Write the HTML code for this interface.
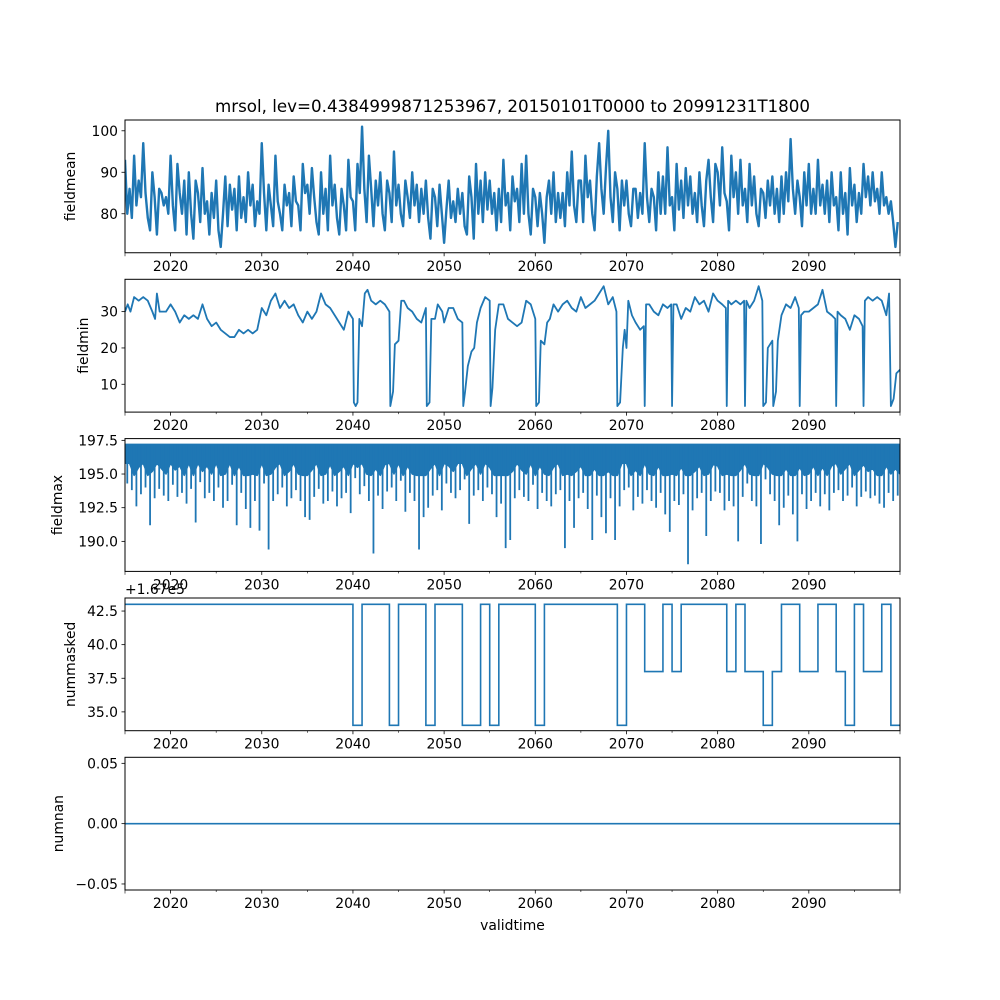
<!DOCTYPE html>
<html><head><meta charset="utf-8">
<style>
html,body{margin:0;padding:0;background:#fff;}
svg{display:block;font-family:"DejaVu Sans","Liberation Sans",sans-serif;}
</style></head>
<body>
<svg id="fig" width="1000" height="1000" viewBox="0 0 1000 1000">
<rect x="0" y="0" width="1000" height="1000" fill="#fff"/>
<text x="512.5" y="112" font-size="16.7" text-anchor="middle">mrsol, lev=0.4384999871253967, 20150101T0000 to 20991231T1800</text>
<text x="512.5" y="930" font-size="13.9" text-anchor="middle">validtime</text>
</svg>
<script>
// ---- data ----
const xDomain = [2015.0, 2100.0];
const majorYears = [2020, 2030, 2040, 2050, 2060, 2070, 2080, 2090];
const minorYears = [2015, 2025, 2035, 2045, 2055, 2065, 2075, 2085, 2095, 2100];

// fieldmean: quarter-year samples starting 2015.0
const meanStart = 2015.0;
const meanStep = 0.25;
const meanValues = [
93,80,86,79, 94,82,88,84, 97,85,79,76, 90,84,75,86, 85,82,84,80,
94,82,76,92, 85,80,88,75, 90,80,74,88, 85,78,91,80, 83,75,85,79,
88,76,72,80, 89,77,87,81, 86,76,89,79, 84,78,90,82, 87,77,83,80,
97,85,76,87, 82,77,94,83, 80,76,87,82, 85,77,89,83, 82,76,92,85,
87,80,91,84, 78,75,90,80, 86,76,94,82, 87,79,75,86, 82,76,93,84,
83,76,92,85, 101,86,78,94, 86,77,88,82, 90,80,76,88, 85,78,95,82,
87,80,77,88, 84,79,90,82, 87,78,86,80, 88,79,74,86, 84,77,87,80,
73,81,88,79, 83,78,86,80, 85,77,75,89, 84,74,92,80, 88,78,90,81,
88,80,85,76, 86,78,93,82, 85,76,89,83, 86,78,92,80, 94,80,75,86,
84,77,85,80, 73,84,88,80, 90,78,85,79, 85,77,90,82, 95,82,78,88,
88,78,94,84, 88,80,76,89, 97,86,80,91, 100,84,78,90, 86,76,88,82,
88,80,77,86, 86,79,85,80, 97,84,78,86, 84,76,90,80, 89,80,96,82,
84,76,92,81, 88,79,91,82, 89,80,85,78, 90,82,77,88, 93,84,78,92,
90,82,96,85, 83,76,94,84, 90,80,93,82, 86,78,92,82, 89,80,77,86,
85,79,88,82, 89,80,86,78, 89,80,90,83, 98,86,80,88, 84,77,90,82,
92,80,86,80, 93,82,87,80, 88,78,90,82, 84,76,90,80, 85,75,91,82,
87,78,85,80, 92,84,89,82, 90,83,86,80, 90,82,84,80, 83,78,72,78
];

// fieldmin: (year, value) pairs
const minYears = [2015,2015.3,2015.6,2016,2016.5,2017,2017.5,2018,2018.3,2018.5,2018.8,2019.5,2020,2020.5,2021,2021.5,2022,2022.5,2023,2023.5,2024,2024.5,2025,2025.5,2026,2026.5,2027,2027.5,2028,2028.5,2029,2029.5,2030,2030.5,2031,2031.5,2032,2032.5,2033,2033.5,2034,2034.5,2035,2035.5,2036,2036.5,2037,2037.5,2038,2038.5,2039,2039.5,2040,2040.1,2040.3,2040.5,2040.7,2041,2041.3,2041.6,2042,2042.5,2043,2043.5,2044,2044.1,2044.4,2044.6,2045,2045.3,2045.6,2046,2046.5,2047,2047.5,2048,2048.1,2048.4,2048.6,2049,2049.3,2049.8,2050,2050.5,2051,2051.5,2052,2052.1,2052.3,2052.6,2053,2053.3,2053.6,2054,2054.5,2055,2055.1,2055.3,2055.6,2056,2056.5,2057,2057.5,2058,2058.5,2059,2059.5,2060,2060.1,2060.4,2060.6,2061,2061.3,2061.6,2062,2062.5,2063,2063.5,2064,2064.5,2065,2065.5,2066,2066.5,2067,2067.5,2068,2068.5,2068.9,2069,2069.3,2069.6,2069.8,2070,2070.2,2070.6,2071,2071.5,2071.9,2072,2072.15,2072.5,2073,2073.5,2074,2074.5,2074.9,2075,2075.15,2075.5,2076,2076.5,2077,2077.5,2078,2078.5,2079,2079.5,2080,2080.5,2080.9,2081,2081.15,2081.5,2082,2082.5,2082.9,2083,2083.15,2083.5,2084,2084.5,2084.9,2085,2085.3,2085.5,2086,2086.1,2086.4,2086.6,2087,2087.5,2088,2088.5,2088.9,2089,2089.15,2089.5,2090,2090.5,2091,2091.5,2092,2092.5,2092.9,2093,2093.15,2093.5,2094,2094.5,2095,2095.5,2095.9,2096,2096.15,2096.5,2097,2097.5,2098,2098.5,2098.8,2099,2099.3,2099.6,2099.99];
const minValues = [30,32,30,34,33,34,33,30,28,35,30,30,32,30,27,29,28,29,28,32,28,26,27,25,24,23,23,25,24,25,24,25,31,29,33,35,31,33,31,32,29,27,30,28,30,35,32,31,29,27,25,30,28,5,4,5,28,26,35,36,33,32,33,32,30,4,8,21,22,33,33,31,30,28,27,31,4,5,28,28,32,30,27,31,31,28,27,4,8,15,19,20,27,31,34,33,4,9,25,32,32,28,27,26,27,33,32,28,4,5,22,21,27,28,32,30,32,33,31,30,34,31,32,33,35,37,32,34,30,4,5,20,25,20,33,29,27,25,26,4,32,32,30,29,32,31,32,4,32,32,28,31,30,34,32,33,30,35,33,32,31,4,33,32,33,32,33,4,33,31,33,37,33,4,5,20,22,4,8,22,29,32,31,34,31,4,29,30,30,31,32,36,30,29,28,4,30,29,28,25,29,28,26,4,33,34,33,34,33,29,35,4,6,13,14];

// fieldmax: upper level and half-year minima starting 2015.0
const maxTop = 197.2;
const maxStart = 2015.0;
const maxStep = 0.5;
const maxLows = [
194.3,193.8, 192.6,193.5, 194.0,191.2, 193.2,193.9, 193.4,193.0,
194.2,193.3, 193.6,192.8, 193.9,191.4, 194.4,193.2, 193.6,193.0,
194.0,192.5, 193.0,194.2, 191.2,193.6, 192.4,191.0, 193.0,190.8,
194.3,189.4, 193.0,193.5, 194.0,192.6, 193.2,193.8, 193.0,191.8,
191.6,193.3, 193.9,192.8, 193.0,193.7, 192.6,193.2, 193.6,192.1,
194.7,193.5, 194.1,193.0, 189.1,193.4, 192.4,193.7, 194.0,193.0,
194.5,192.2, 193.6,193.0, 189.4,191.8, 192.5,193.4, 193.8,192.3,
194.3,193.6, 193.2,193.8, 194.6,191.3, 193.4,193.8, 193.0,194.0,
193.5,191.8, 192.8,189.5, 190.1,193.2, 193.8,193.3, 193.0,194.2,
192.4,193.6, 193.0,192.6, 193.5,193.8, 189.5,193.0, 191.0,193.2,
193.6,192.4, 190.1,193.4, 191.8,190.6, 193.2,190.1, 192.6,193.8,
194.0,192.3, 193.3,192.8, 193.8,193.0, 192.5,193.6, 192.0,190.7,
193.0,192.7, 193.5,188.3, 192.3,193.2, 193.6,190.4, 193.0,193.7,
193.6,192.3, 193.0,192.6, 190.0,193.3, 194.3,193.0, 192.6,189.8,
194.6,193.5, 193.0,191.2, 192.5,193.4, 192.0,190.0, 193.5,192.4,
193.0,193.6, 192.6,193.5, 192.3,193.6, 193.8,193.0, 193.4,194.0,
192.6,193.3, 193.7,193.2, 193.4,192.8, 192.5,193.6, 193.0,193.4
];

// nummasked step function (offset +1.67e5)
const maskEdges = [2015,2040,2041,2044,2045,2048,2049,2052,2054,2055,2056,2060,2061,2069,2070,2072,2074,2075,2076,2081,2082,2083,2085,2086,2087,2089,2091,2093,2094,2095,2096,2098,2099,2100];
const maskValues = [43,34,43,34,43,34,43,34,43,34,43,34,43,34,43,38,43,38,43,38,43,38,34,38,43,38,43,38,34,43,38,43,34];

// numnan
const nanValues = [0, 0];

// y-axis ticks
const meanTicks = [80, 90, 100];
const minTicks = [10, 20, 30];
const maxTicks = [190.0, 192.5, 195.0, 197.5];
const maskTicks = [35.0, 37.5, 40.0, 42.5];
const nanTicks = [-0.05, 0.00, 0.05];

// ---- drawing ----
const NS = 'http://www.w3.org/2000/svg';
const svg = document.getElementById('fig');
const L = 125, R = 900;
const C = '#1f77b4';
function el(tag, attrs, parent) {
  const e = document.createElementNS(NS, tag);
  for (const k in attrs) e.setAttribute(k, attrs[k]);
  (parent || svg).appendChild(e);
  return e;
}
function xs(yr) { return L + (yr - xDomain[0]) / (xDomain[1] - xDomain[0]) * (R - L); }

const panels = [
  {name:'fieldmean', top:120, bot:252.75, ymin:70.6, ymax:102.6, ticks:meanTicks, fmt:v=>String(v), labx:75},
  {name:'fieldmin', top:279.3, bot:412.1, ymin:2.34, ymax:38.9, ticks:minTicks, fmt:v=>String(v), labx:88},
  {name:'fieldmax', top:438.6, bot:571.4, ymin:187.77, ymax:197.63, ticks:maxTicks, fmt:v=>v.toFixed(1), labx:62},
  {name:'nummasked', top:598, bot:730.7, ymin:33.6, ymax:43.47, ticks:maskTicks, fmt:v=>v.toFixed(1), labx:75},
  {name:'numnan', top:757.3, bot:890, ymin:-0.055, ymax:0.055, ticks:nanTicks, fmt:v=>(v<0?'\u22120.05':v.toFixed(2)), labx:63}
];

panels.forEach((p, idx) => {
  const g = el('g', {});
  
  
  const ys = v => p.bot - (v - p.ymin) / (p.ymax - p.ymin) * (p.bot - p.top);
  const clipId = 'clip' + idx;
  const cp = el('clipPath', {id: clipId}, g);
  el('rect', {x: L, y: p.top, width: R - L, height: p.bot - p.top}, cp);
  const plot = el('g', {'clip-path': 'url(#' + clipId + ')'}, g);
  
  

  if (idx === 0) {
    const pts = meanValues.map((v, i) => xs(meanStart + i * meanStep).toFixed(2) + ',' + ys(v).toFixed(2));
    const line = el('polyline', {points: pts.join(' '), fill: 'none', stroke: C, 'stroke-width': 2.4, 'stroke-linejoin': 'round'}, plot);
    
    
  } else if (idx === 1) {
    const pts = minYears.map((yr, i) => xs(yr).toFixed(2) + ',' + ys(minValues[i]).toFixed(2));
    const line = el('polyline', {points: pts.join(' '), fill: 'none', stroke: C, 'stroke-width': 1.8, 'stroke-linejoin': 'round'}, plot);
    
    
  } else if (idx === 2) {
    const pts = [xs(maxStart).toFixed(2) + ',' + ys(maxTop).toFixed(2)];
    maxLows.forEach((v, i) => {
      const x0 = xs(maxStart + i * maxStep);
      pts.push(x0.toFixed(2) + ',' + ys(Math.min(195.8, Math.max(v + 2.0, 194.9))).toFixed(2));
    });
    pts.push(xs(xDomain[1]).toFixed(2) + ',' + ys(195.0).toFixed(2));
    pts.push(xs(xDomain[1]).toFixed(2) + ',' + ys(maxTop).toFixed(2));
    const band = el('polygon', {points: pts.join(' '), fill: C, stroke: C, 'stroke-width': 1.5, 'stroke-linejoin': 'round'}, plot);
    
    
    maxLows.forEach((v, i) => {
      const x = xs(maxStart + (i + 0.5) * maxStep);
      const s = el('line', {x1: x, x2: x, y1: ys(maxTop), y2: ys(v), stroke: C, 'stroke-width': 1.8}, plot);
      
      
    });
  } else if (idx === 3) {
    let d = '';
    maskValues.forEach((v, i) => {
      const x0 = xs(maskEdges[i]), x1 = xs(maskEdges[i + 1]), y = ys(v);
      d += (i === 0 ? 'M' : 'L') + x0.toFixed(2) + ',' + y.toFixed(2) + ' L' + x1.toFixed(2) + ',' + y.toFixed(2) + ' ';
    });
    const line = el('path', {d: d, fill: 'none', stroke: C, 'stroke-width': 1.6}, plot);
    
    
  } else {
    const line = el('line', {x1: xs(xDomain[0]), x2: xs(xDomain[1]), y1: ys(nanValues[0]), y2: ys(nanValues[1]), stroke: C, 'stroke-width': 1.6}, plot);
    
    
  }

  const frame = el('rect', {x: L, y: p.top, width: R - L, height: p.bot - p.top, fill: 'none', stroke: '#000', 'stroke-width': 1}, g);
  
  

  p.ticks.forEach(v => {
    const y = ys(v);
    el('line', {x1: L - 3.5, x2: L, y1: y, y2: y, stroke: '#000', 'stroke-width': 0.8}, g);
    const t = el('text', {x: L - 7, y: y + 5, 'font-size': 13.9, 'text-anchor': 'end'}, g);
    t.textContent = p.fmt(v);
    
    
  });
  majorYears.forEach(yr => {
    const x = xs(yr);
    el('line', {x1: x, x2: x, y1: p.bot, y2: p.bot + 3.5, stroke: '#000', 'stroke-width': 0.8}, g);
    const t = el('text', {x: x, y: p.bot + 18, 'font-size': 13.9, 'text-anchor': 'middle'}, g);
    t.textContent = String(yr);
    
    
  });
  minorYears.forEach(yr => {
    const x = xs(yr);
    const len = (yr === 2015 || yr === 2100) ? 3.5 : 2;
    el('line', {x1: x, x2: x, y1: p.bot, y2: p.bot + len, stroke: '#000', 'stroke-width': 0.6}, g);
  });
  const cy = (p.top + p.bot) / 2;
  const lab = el('text', {x: p.labx, y: cy, 'font-size': 13.9, 'text-anchor': 'middle', transform: 'rotate(-90 ' + p.labx + ' ' + cy + ')'}, g);
  lab.textContent = p.name;
  
  
});

const off = el('text', {x: 125, y: 594, 'font-size': 13.9, 'text-anchor': 'start'});
off.textContent = '+1.67e5';


</script>
</body></html>
